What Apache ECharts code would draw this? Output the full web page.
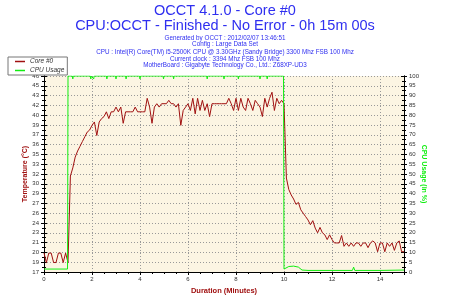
<!DOCTYPE html>
<html>
<head>
<meta charset="utf-8">
<script src="https://cdn.jsdelivr.net/npm/echarts@6/dist/echarts.min.js"></script>
<style>
  html, body { margin: 0; padding: 0; background: #fff; }
  #chart { width: 450px; height: 300px; }
</style>
</head>
<body>
<div id="chart"></div>
<script>
// core temperature, one reading every 0.1 minute from 0 to 15 min
const sampleStep = 0.1
const coreTemp = [
  20.4, 19, 20.4, 20.4, 19, 19, 20.4, 20.4, 19, 20.4,
  19, 31.8, 33, 34.6, 35.5, 36.2, 36.9, 37.6, 38.3, 38.6,
  39.3, 39.8, 37.8, 39.8, 40.3, 40.6, 41.3, 40.3, 41.3, 41.3,
  42, 41.3, 42, 39.6, 41.3, 41.3, 41.3, 41.3, 42, 41.3,
  41.3, 41.3, 41.3, 43.3, 42, 39.6, 42, 42.5, 42, 42.5,
  42.5, 42.5, 43, 42.5, 42.5, 42, 42.5, 39.3, 41.5, 42,
  42.5, 41.5, 43.3, 41, 43.3, 41.5, 43, 41.5, 42.5, 40.6,
  42.5, 42.5, 42.5, 42.5, 42.5, 42.5, 42.5, 43.3, 42.5, 41.5,
  43.3, 41.5, 43.3, 42, 41.5, 43.3, 42.5, 41.5, 43, 42.5,
  42, 40.6, 43.3, 42, 43.3, 44.2, 41.5, 43.3, 42.5, 43,
  42.5, 31.5, 29.8, 29, 28.4, 27.6, 27.9, 26.8, 26.3, 25.8,
  25.3, 24.6, 25.2, 24.1, 23.4, 24.2, 23.4, 23.1, 22.4, 23.1,
  22.4, 21.9, 21.9, 21.9, 23, 21.4, 21.9, 21.4, 21.9, 21.4,
  21.9, 21.9, 21.4, 21.9, 21.9, 21.2, 21.9, 22.2, 21.9, 20.6,
  21.9, 21.9, 20.6, 21.9, 21.4, 21.9, 20.8, 21.9, 22.2, 20.6,
  20.6
]

// CPU usage (%) at the given minutes
const cpuTimes = [
  0, 0.5, 0.98, 1.0, 1.18, 1.2, 1.22, 1.93, 1.95, 1.97,
  2.05, 2.07, 2.09, 2.6, 2.62, 2.64, 2.98, 3.0, 3.02, 3.4,
  3.42, 3.44, 3.98, 4.0, 4.02, 4.96, 4.98, 5.0, 5.38, 5.4,
  5.42, 6.78, 6.8, 6.82, 7.48, 7.5, 7.52, 8.08, 8.1, 8.12,
  8.98, 9.0, 9.02, 9.28, 9.3, 9.32, 9.98, 10.0, 10.05, 10.2,
  10.4, 10.6, 10.75, 11, 12, 12.85, 12.9, 12.95, 14, 15
]
const cpuUsage = [
  1.5, 1.5, 1.5, 100, 100, 98.5, 100, 100, 98.5, 100,
  100, 98.5, 100, 100, 98.5, 100, 100, 98.5, 100, 100,
  98.5, 100, 100, 98.5, 100, 100, 98.5, 100, 100, 98.5,
  100, 100, 98.5, 100, 100, 98.5, 100, 100, 98.5, 100,
  100, 98.5, 100, 100, 98.5, 100, 100, 1.5, 2.5, 2.8,
  3, 2.5, 1, 0.8, 0.8, 0.8, 2.5, 0.8, 0.8, 1
]

const tempRange = [17.6, 46.6]
const headLines = ['OCCT 4.1.0 - Core #0', 'CPU:OCCT - Finished - No Error - 0h 15m 00s']
const infoLines = [
  'Generated by OCCT : 2012/02/07 13:46:51',
  'Config : Large Data Set',
  'CPU : Intel(R) Core(TM) i5-2500K CPU @ 3.30GHz (Sandy Bridge) 3300 Mhz FSB 100 Mhz',
  'Current clock : 3394 Mhz FSB 100 Mhz',
  'MotherBoard : Gigabyte Technology Co., Ltd.: Z68XP-UD3'
]

const FONT = 'Liberation Sans'
const BLUE = '#2f2ff0'
const RED = '#a01010'
const GREEN = '#11ee11'

const headTops = [3, 18]
const infoTops = [35, 41.5, 49, 56, 62.5]

const titles = headLines.map((t, i) => ({
  text: t, left: 'center', top: headTops[i], padding: 0,
  textStyle: { fontFamily: FONT, fontSize: 14.5, fontWeight: 'normal', color: BLUE }
})).concat(infoLines.map((t, i) => ({
  text: t, left: 'center', top: infoTops[i], padding: 0,
  textStyle: { fontFamily: FONT, fontSize: 6.3, fontWeight: 'normal', color: BLUE }
})))

const dotted = { show: true, lineStyle: { color: '#999', type: [1, 2], width: 1 } }
const tickLabel = { fontFamily: FONT, fontSize: 6, color: '#333' }
const black = { color: '#000', width: 1 }

// second copy of an axis that only draws its ticks on the inner side
function innerTicks(base) {
  return Object.assign({}, base, {
    name: '',
    axisLine: { show: true, lineStyle: black },
    axisTick: { show: true, inside: true, length: 3, lineStyle: black },
    minorTick: Object.assign({}, base.minorTick, { show: true, length: 2, lineStyle: black }),
    axisLabel: { show: false },
    splitLine: { show: false }
  })
}

const xMain = {
  type: 'value', min: 0, max: 15, interval: 2,
  axisLine: { lineStyle: black },
  axisTick: { length: 3, lineStyle: black },
  minorTick: { show: true, splitNumber: 4, length: 2, lineStyle: black },
  splitLine: dotted,
  axisLabel: Object.assign({ margin: 4, showMaxLabel: false }, tickLabel),
  name: 'Duration (Minutes)', nameLocation: 'middle', nameGap: 14,
  nameTextStyle: { fontFamily: FONT, fontSize: 7.5, fontWeight: 'bold', color: RED }
}

const yLeft = {
  type: 'value', min: 0, max: 100, interval: 5, position: 'left',
  axisLine: { show: true, lineStyle: black },
  axisTick: { show: true, length: 3, lineStyle: black },
  minorTick: { show: true, splitNumber: 2, length: 2, lineStyle: black },
  splitLine: dotted,
  axisLabel: Object.assign({
    margin: 5,
    formatter: v => String(Math.floor(tempRange[0] + v / 100 * (tempRange[1] - tempRange[0]) + 1e-9))
  }, tickLabel),
  name: 'Temperature (°C)', nameLocation: 'middle', nameGap: 15, nameMoveOverlap: false,
  nameTextStyle: { fontFamily: FONT, fontSize: 7, fontWeight: 'bold', color: RED }
}

const yRight = {
  type: 'value', min: 0, max: 100, interval: 5, position: 'right',
  axisLine: { show: true, lineStyle: black },
  axisTick: { show: true, length: 3, lineStyle: black },
  minorTick: { show: true, splitNumber: 2, length: 2, lineStyle: black },
  splitLine: { show: false },
  axisLabel: Object.assign({ margin: 5 }, tickLabel),
  name: 'CPU Usage (in %)', nameLocation: 'middle', nameGap: 16, nameRotate: -90, nameMoveOverlap: false,
  nameTextStyle: { fontFamily: FONT, fontSize: 7, fontWeight: 'bold', color: GREEN }
}

const chart = echarts.init(document.getElementById('chart'))
chart.setOption({
  animation: false,
  backgroundColor: '#fff',
  title: titles,
  legend: {
    data: ['Core #0', 'CPU Usage'],
    orient: 'vertical', left: 8, top: 57,
    backgroundColor: '#fff', borderColor: '#777', borderWidth: 1,
    padding: [1, 3, 1, 7], itemGap: 2, itemWidth: 10, itemHeight: 1.5,
    icon: 'rect',
    textStyle: { fontFamily: FONT, fontSize: 6.5, fontStyle: 'italic', color: '#333' }
  },
  grid: {
    left: 44, top: 76, width: 360, height: 196,
    show: true, backgroundColor: '#fcf5e3', borderWidth: 0
  },
  xAxis: [xMain, innerTicks(xMain)],
  yAxis: [
    { type: 'value', min: tempRange[0], max: tempRange[1], show: false },
    yLeft,
    yRight,
    innerTicks(yLeft),
    innerTicks(yRight)
  ],
  series: [
    {
      name: 'Core #0', type: 'line', yAxisIndex: 0, symbol: 'none',
      lineStyle: { color: RED, width: 1 }, itemStyle: { color: RED },
      data: coreTemp.map((v, i) => [+(i * sampleStep).toFixed(1), v])
    },
    {
      name: 'CPU Usage', type: 'line', yAxisIndex: 2, symbol: 'none',
      lineStyle: { color: GREEN, width: 1 }, itemStyle: { color: GREEN },
      data: cpuTimes.map((t, i) => [t, cpuUsage[i]])
    }
  ]
})
</script>
</body>
</html>
